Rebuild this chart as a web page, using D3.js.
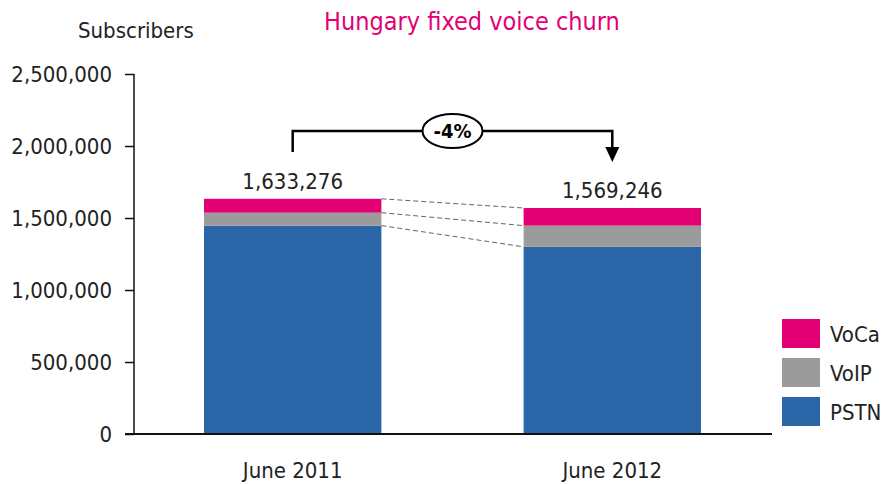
<!DOCTYPE html>
<meta charset="utf-8">
<script src="https://d3js.org/d3.v7.min.js"></script>
<style>
  body { margin: 0; background: #fff; }
  text { font-family: "DejaVu Sans Condensed", "DejaVu Sans", sans-serif; font-stretch: condensed; fill: #222; }
  .tick text { font-size: 22px; }
</style>
<body>
<svg id="chart" width="888" height="484"></svg>
<script>
  // data
  var periods = ["June 2011", "June 2012"];
  var seriesNames = ["PSTN", "VoIP", "VoCa"];
  var pstn = [1447000, 1300000];
  var voip = [90000, 147000];
  var voca = [96276, 122246];
  var totals = [1633276, 1569246];
  var yTicks = [0, 500000, 1000000, 1500000, 2000000, 2500000];
  var changeLabel = "-4%";
  var colors = { PSTN: "#2A66A8", VoIP: "#9B9B9B", VoCa: "#E20074" };

  var svg = d3.select("#chart");
  var x0 = 134, x1 = 772, yBottom = 434, yTop = 74;

  var rows = periods.map(function (p, i) {
    return { period: p, PSTN: pstn[i], VoIP: voip[i], VoCa: voca[i] };
  });
  var stacked = d3.stack().keys(seriesNames)(rows);

  var x = d3.scaleBand().domain(periods).range([204, 701]).paddingInner(0.445).paddingOuter(0);
  var y = d3.scaleLinear().domain([0, 2500000]).range([yBottom, yTop]);

  // title
  svg.append("text").attr("x", 472).attr("y", 30).attr("text-anchor", "middle")
    .style("font-size", "25px").style("fill", "#E20074").text("Hungary fixed voice churn");
  svg.append("text").attr("x", 78).attr("y", 38).style("font-size", "22px").text("Subscribers");

  // y axis
  var yAxis = svg.append("g").attr("transform", "translate(" + x0 + ",0)")
    .call(d3.axisLeft(y).tickValues(yTicks).tickFormat(d3.format(",")).tickSize(9).tickPadding(13));
  yAxis.selectAll("line, path").attr("stroke", "#111").attr("stroke-width", 1.5);
  yAxis.select(".domain").attr("d", "M0," + yTop + "V" + yBottom);
  yAxis.selectAll(".tick text").attr("fill", "#222");

  // bars
  svg.append("g").selectAll("g").data(stacked).enter().append("g")
    .attr("fill", function (d) { return colors[d.key]; })
    .selectAll("rect").data(function (d) { return d; }).enter().append("rect")
    .attr("x", function (d) { return x(d.data.period); })
    .attr("y", function (d) { return y(d[1]); })
    .attr("width", x.bandwidth())
    .attr("height", function (d) { return y(d[0]) - y(d[1]); });

  // dashed connectors
  stacked.forEach(function (s) {
    svg.append("line")
      .attr("x1", x(periods[0]) + x.bandwidth()).attr("y1", y(s[0][1]))
      .attr("x2", x(periods[1])).attr("y2", y(s[1][1]))
      .attr("stroke", "#666").attr("stroke-dasharray", "5,3").attr("stroke-width", 1);
  });

  // x axis line
  svg.append("line").attr("x1", x0 - 9).attr("x2", x1).attr("y1", yBottom).attr("y2", yBottom)
    .attr("stroke", "#111").attr("stroke-width", 2);

  // x labels
  svg.selectAll(".xl").data(periods).enter().append("text")
    .attr("x", function (d) { return x(d) + x.bandwidth() / 2; })
    .attr("y", 478).attr("text-anchor", "middle").style("font-size", "22px")
    .text(function (d) { return d; });

  // totals
  svg.selectAll(".tot").data(totals).enter().append("text")
    .attr("x", function (d, i) { return x(periods[i]) + x.bandwidth() / 2; })
    .attr("y", function (d) { return y(d) - 10; })
    .attr("text-anchor", "middle").style("font-size", "22px")
    .text(function (d) { return d3.format(",")(d); });

  // change arrow
  var ax1 = x(periods[0]) + x.bandwidth() / 2, ax2 = x(periods[1]) + x.bandwidth() / 2, ay = 131;
  svg.append("path").attr("d", "M" + ax1 + "," + (ay + 21) + "V" + ay + "H" + ax2 + "V" + (ay + 16))
    .attr("fill", "none").attr("stroke", "#000").attr("stroke-width", 2.5);
  svg.append("path").attr("d", "M" + (ax2 - 7) + "," + (ay + 16) + "L" + (ax2 + 7) + "," + (ay + 16) + "L" + ax2 + "," + (ay + 31) + "Z")
    .attr("fill", "#000");
  var cx = (ax1 + ax2) / 2;
  svg.append("ellipse").attr("cx", cx).attr("cy", ay).attr("rx", 30).attr("ry", 17)
    .attr("fill", "#fff").attr("stroke", "#000").attr("stroke-width", 2);
  svg.append("text").attr("x", cx).attr("y", ay + 7).attr("text-anchor", "middle")
    .style("font-size", "20px").style("font-weight", "bold").style("fill", "#000").text(changeLabel);

  // legend
  var legendKeys = seriesNames.slice().reverse();
  var lg = svg.selectAll(".lg").data(legendKeys).enter().append("g")
    .attr("transform", function (d, i) { return "translate(782," + (319 + i * 39) + ")"; });
  lg.append("rect").attr("width", 38).attr("height", 29).attr("fill", function (d) { return colors[d]; });
  lg.append("text").attr("x", 48).attr("y", 23).style("font-size", "22px").text(function (d) { return d; });
</script>
</body>
